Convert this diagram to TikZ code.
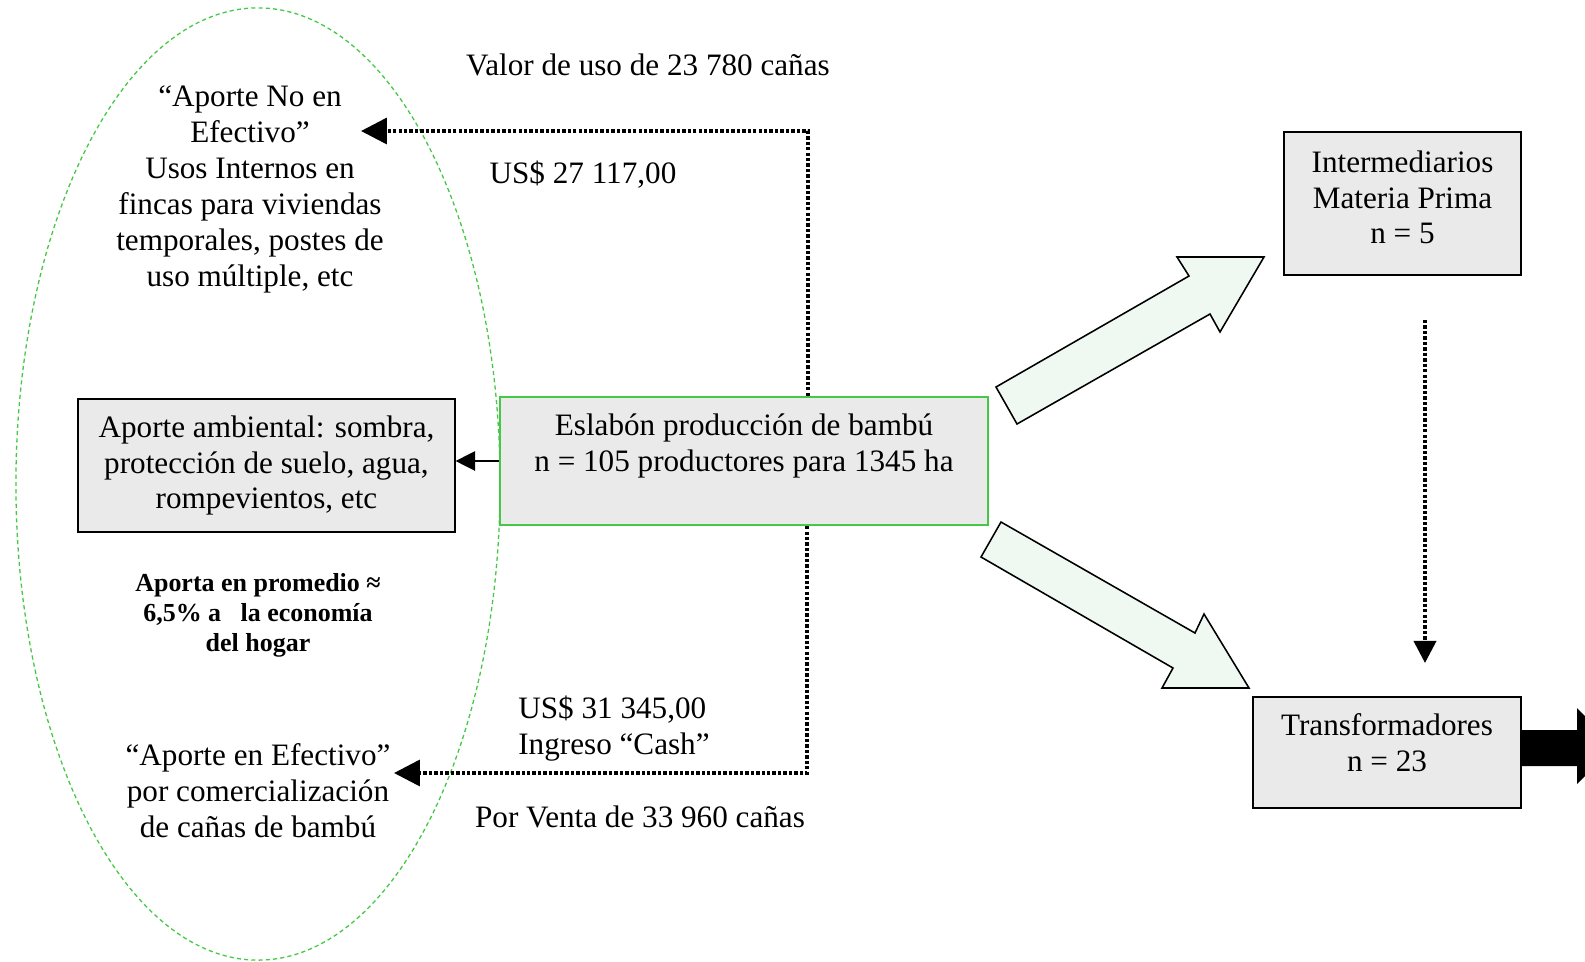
\documentclass[tikz,border=0pt]{standalone}
\usepackage{fontspec}
\setmainfont{Liberation Serif}
\usetikzlibrary{arrows.meta}
\definecolor{boxgray}{RGB}{234,234,234}
\definecolor{mint}{RGB}{239,248,241}
\definecolor{linegreen}{RGB}{70,200,70}

\begin{document}
\begin{tikzpicture}[x=0.385pt, y=-0.385pt,
		every node/.style={font=\fontsize{12pt}{13.85pt}\selectfont, align=center, inner sep=0pt},
		graybox/.style={draw, line width=0.5pt, fill=boxgray},
		flowdot/.style={line width=1.4pt, dash pattern=on 1.3pt off 0.8pt, -{Triangle[length=10pt,width=10pt]}},
		fatarrow/.style={draw, line width=0.6pt, fill=mint, line join=miter}]
	\useasboundingbox (0,0) rectangle (1585,961);
	\draw[linegreen, line width=0.5pt, dash pattern=on 1.6pt off 1.2pt] (258,484) ellipse [x radius=93.2pt, y radius=183.3pt];

	\node[graybox, draw=linegreen, line width=0.8pt, minimum width=187.9pt, minimum height=49.3pt] (main) at (744,461)
		{Eslabón producción de bambú\\ n = 105 productores para 1345 ha\\ \mbox{}};
	\node[graybox, minimum width=145.1pt, minimum height=51.2pt] (amb) at (266.5,465.5)
		{Aporte ambiental: sombra,\\ protección de suelo, agua,\\ rompevientos, etc};
	\node[graybox, minimum width=91.2pt, minimum height=55.1pt] (interm) at (1402.5,203.5)
		{Intermediarios\\ Materia Prima\\ n = 5\\[-9pt] \mbox{}};
	\node[graybox, minimum width=103.2pt, minimum height=42.7pt] (trans) at (1387,752.5)
		{Transformadores\\ n = 23\\[-6pt] \mbox{}};

	\node (nocash) at (250,189) {“Aporte No en\\ Efectivo”\\ Usos Internos en\\ fincas para viviendas\\ temporales, postes de\\ uso múltiple, etc};
	\node (valor) at (648,65) {Valor de uso de 23 780 cañas};
	\node (usA) at (583,175) {US\$ 27 117,00};
	\node (cash) at (258,791) {“Aporte en Efectivo”\\ por comercialización\\ de cañas de bambú};
	\node[align=left] (usB) at (614,729) {US\$ 31 345,00\\ Ingreso “Cash”};
	\node (venta) at (640,817) {Por Venta de 33 960 cañas};
	\node[font=\fontsize{10pt}{11.55pt}\selectfont\bfseries] (prom) at (258,615)
		{Aporta en promedio ≈\\ 6,5\% a \ \ la economía\\ del hogar};

	\coordinate (tipA) at (361,131);
	\coordinate (tipB) at (394,773);
	\coordinate (vtop) at (1425,320);
	\coordinate (vbot) at (1425,663);
	\draw[flowdot] ([xshift=24.6pt]main.north) |- (tipA);
	\draw[flowdot] ([xshift=24.3pt]main.south) |- (tipB);
	\draw[flowdot, -{Triangle[length=8.5pt,width=8.5pt]}] (vtop) -- (vbot);
	\draw[line width=0.5pt, -{Triangle[length=7.5pt,width=7.5pt]}] (main.west) -- (main.west -| amb.east);

	\draw[fatarrow] (996,387) -- (1189,276) -- (1177,257) -- (1264,257) -- (1220,332) -- (1210,314) -- (1017,424) -- cycle;
	\draw[fatarrow] (1001,522) -- (1195,633) -- (1204,614) -- (1249,688) -- (1162,688) -- (1173,668) -- (981,557) -- cycle;
	\fill (1521,730) -- (1577,730) -- (1577,708) -- (1615,746) -- (1577,784) -- (1577,766) -- (1521,766) -- cycle;
\end{tikzpicture}
\end{document}
